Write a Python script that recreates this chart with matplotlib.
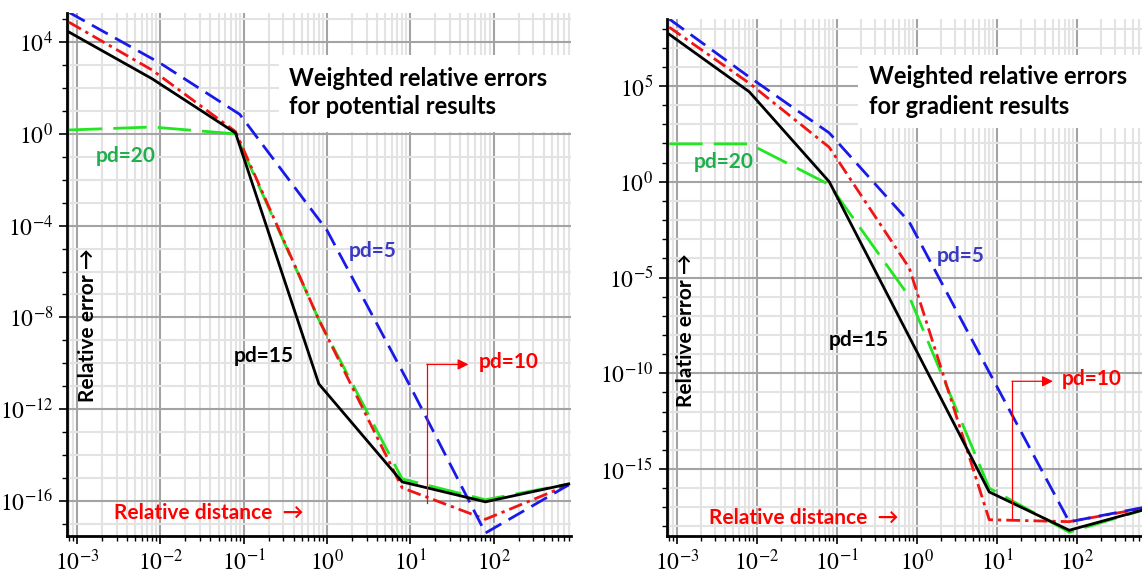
import numpy as np
import matplotlib
matplotlib.use("Agg")
import matplotlib.pyplot as plt
import matplotlib.patches as mp
from matplotlib.ticker import FixedLocator, NullFormatter, FuncFormatter

plt.rcParams['mathtext.fontset'] = 'stix'
plt.rcParams['font.family'] = ['Liberation Serif', 'DejaVu Serif']

# ---------------- data (log10 of relative error) ----------------
x_pts = [8e-4, 8e-3, 8e-2, 0.8, 8, 80, 800]
x_blue_pot = [8e-4, 1e-2, 9e-2, 1.0, 10, 80, 800]

pot_pd15 = [4.44, 2.4, 0.04, -10.9, -15.17, -16.04, -15.26]
pot_pd5 = [5.3, 3.08, 0.85, -4.2, -11.0, -17.4, -15.3]
pot_pd10 = [4.87, 2.78, 0.1, -8.1, -15.43, -16.8, -15.3]
pot_pd20 = [0.17, 0.3, 0.0, -8.1, -15.04, -15.95, -15.26]

grad_pd15 = [7.7, 4.7, 0.0, -8.1, -16.2, -18.2, -17.05]
grad_pd5 = [8.5, 5.47, 2.55, -2.1, -9.95, -17.76, -16.95]
grad_pd10 = [8.07, 5.15, 1.8, -4.5, -17.65, -17.75, -17.0]
grad_pd20 = [1.98, 1.98, -0.15, -6.0, -16.0, -18.3, -17.05]

x_tick_exps = [-3, -2, -1, 0, 1, 2]
pot_y_exps = [-16, -12, -8, -4, 0, 4]
grad_y_exps = [-15, -10, -5, 0, 5]

titles = ["Weighted relative errors\nfor potential results",
          "Weighted relative errors\nfor gradient results"]

BLUE = '#1a1ae8'
RED = '#f01414'
GREEN = '#22e622'
BLACK = '#000000'
LW = 2.0

W, H = 1142, 574
fig = plt.figure(figsize=(W / 100, H / 100), dpi=100)


def px_axes(x0, x1, ytop, ybot):
    return fig.add_axes([x0 / W, 1 - ybot / H, (x1 - x0) / W, (ybot - ytop) / H])


def style_axes(ax, xlim, ylim, y_exps, y_minor):
    ax.set_xscale('log')
    ax.set_yscale('log')
    ax.set_xlim(*xlim)
    ax.set_ylim(*ylim)
    for s in ['top', 'right']:
        ax.spines[s].set_visible(False)
    for s in ['left', 'bottom']:
        ax.spines[s].set_linewidth(2.0)
    ax.xaxis.set_major_locator(FixedLocator([10.0 ** e for e in x_tick_exps]))
    xminor = [m * 10.0 ** e for e in range(-4, 4) for m in range(2, 10)]
    ax.xaxis.set_minor_locator(FixedLocator(xminor))
    ax.yaxis.set_major_locator(FixedLocator([10.0 ** e for e in y_exps]))
    ax.yaxis.set_minor_locator(FixedLocator([10.0 ** e for e in y_minor]))
    fmt = FuncFormatter(lambda v, p: r'$10^{%d}$' % int(round(np.log10(v))))
    ax.xaxis.set_major_formatter(fmt)
    ax.yaxis.set_major_formatter(fmt)
    ax.xaxis.set_minor_formatter(NullFormatter())
    ax.yaxis.set_minor_formatter(NullFormatter())
    ax.tick_params(which='major', direction='out', length=6, width=1.2, labelsize=17, pad=4)
    ax.tick_params(which='minor', direction='out', length=3.5, width=1.0)
    ax.grid(which='minor', color='#e3e3e3', lw=1.5, zorder=0)
    ax.grid(which='major', color='#a3a3a3', lw=1.5, zorder=0)
    ax.set_axisbelow(True)


def plot_series(ax, xs, ys, color, ls):
    ax.plot(xs, [10.0 ** v for v in ys], color=color, lw=LW, linestyle=ls,
            solid_joinstyle='miter', zorder=3)


SANS = ['Lato', 'DejaVu Sans']
LBL = 15
TTL = 17

# ---------------- left: potential ----------------
axL = px_axes(67, 571, 13, 536)
style_axes(axL, (10 ** -3.12, 10 ** 2.93), (10 ** -17.53, 10 ** 5.27),
           pot_y_exps, list(range(-17, 6)))
plot_series(axL, x_pts, pot_pd20, GREEN, (0, (12, 4)))
plot_series(axL, x_pts, pot_pd10, RED, (0, (5, 1.8, 1.2, 1.8)))
plot_series(axL, x_blue_pot, pot_pd5, BLUE, (0, (6.5, 3)))
plot_series(axL, x_pts, pot_pd15, BLACK, '-')

# ---------------- right: gradient ----------------
axR = px_axes(667, 1142, 19, 536)
style_axes(axR, (10 ** -3.125, 10 ** 2.8125), (10 ** -18.5, 10 ** 8.5),
           grad_y_exps, list(range(-18, 9)))
plot_series(axR, x_pts, grad_pd20, GREEN, (0, (12, 4)))
plot_series(axR, x_pts, grad_pd10, RED, (0, (5, 1.8, 1.2, 1.8)))
plot_series(axR, x_pts, grad_pd5, BLUE, (0, (6.5, 3)))
plot_series(axR, x_pts, grad_pd15, BLACK, '-')


def ax_text(ax, x0, x1, ytop, ybot, x, y, s, **kw):
    fx = (x - x0) / (x1 - x0)
    fy = (ybot - y) / (ybot - ytop)
    ax.text(fx, fy, s, transform=ax.transAxes, family=SANS, fontweight='bold', **kw)


def white_box(ax, x0, x1, ytop, ybot, bx0, bx1, by0, by1):
    fx0 = (bx0 - x0) / (x1 - x0)
    fx1 = (bx1 - x0) / (x1 - x0)
    fy0 = (ybot - by1) / (ybot - ytop)
    fy1 = (ybot - by0) / (ybot - ytop)
    ax.add_patch(mp.Rectangle((fx0, fy0), fx1 - fx0, fy1 - fy0, transform=ax.transAxes,
                              facecolor='white', edgecolor='none', zorder=1.5))


# left annotations
L = (67, 571, 13, 536)
white_box(axL, *L, 279, 571, 55, 132)
ax_text(axL, *L, 289, 78, titles[0].split('\n')[0], fontsize=TTL, va='center', ha='left', zorder=5)
ax_text(axL, *L, 289, 107, titles[0].split('\n')[1], fontsize=TTL, va='center', ha='left', zorder=5)
ax_text(axL, *L, 96, 156, 'pd=20', color='#1fb04c', fontsize=LBL, va='center', ha='left')
ax_text(axL, *L, 349, 251, 'pd=5', color='#3a3ac4', fontsize=LBL, va='center', ha='left')
ax_text(axL, *L, 234, 356, 'pd=15', color='black', fontsize=LBL, va='center', ha='left')
ax_text(axL, *L, 479, 362, 'pd=10', color='#ff0000', fontsize=LBL, va='center', ha='left')
ax_text(axL, *L, 114, 513, 'Relative distance  \u2192', color='#ff0000', fontsize=LBL,
        va='center', ha='left')
ax_text(axL, *L, 88, 325, 'Relative error \u2192', color='black', fontsize=LBL,
        va='center', ha='center', rotation=90)

axL.plot([15.8, 15.8], [10 ** -16.09, 10 ** -10.05], color='#ff0000', lw=0.9, zorder=4)
axL.annotate('', xy=(50, 10 ** -10.05), xytext=(15.8, 10 ** -10.05),
             arrowprops=dict(arrowstyle='-|>', color='#ff0000', lw=0.9,
                             mutation_scale=16, shrinkA=0, shrinkB=0), zorder=4)

# right annotations
R = (667, 1142, 19, 536)
white_box(axR, *R, 858, 1142, 55, 128)
ax_text(axR, *R, 869, 76, titles[1].split('\n')[0], fontsize=TTL, va='center', ha='left', zorder=5)
ax_text(axR, *R, 869, 106, titles[1].split('\n')[1], fontsize=TTL, va='center', ha='left', zorder=5)
ax_text(axR, *R, 694, 162, 'pd=20', color='#1fb04c', fontsize=LBL, va='center', ha='left')
ax_text(axR, *R, 937, 256, 'pd=5', color='#3a3ac4', fontsize=LBL, va='center', ha='left')
ax_text(axR, *R, 829, 340, 'pd=15', color='black', fontsize=LBL, va='center', ha='left')
ax_text(axR, *R, 1062, 379, 'pd=10', color='#ff0000', fontsize=LBL, va='center', ha='left')
ax_text(axR, *R, 709, 518, 'Relative distance  \u2192', color='#ff0000', fontsize=LBL,
        va='center', ha='left')
ax_text(axR, *R, 686, 330, 'Relative error \u2192', color='black', fontsize=LBL,
        va='center', ha='center', rotation=90)

axR.plot([15.4, 15.4], [10 ** -17.55, 10 ** -10.42], color='#ff0000', lw=0.9, zorder=4)
axR.annotate('', xy=(50, 10 ** -10.42), xytext=(15.4, 10 ** -10.42),
             arrowprops=dict(arrowstyle='-|>', color='#ff0000', lw=0.9,
                             mutation_scale=16, shrinkA=0, shrinkB=0), zorder=4)

fig.savefig('out.png', dpi=100)
